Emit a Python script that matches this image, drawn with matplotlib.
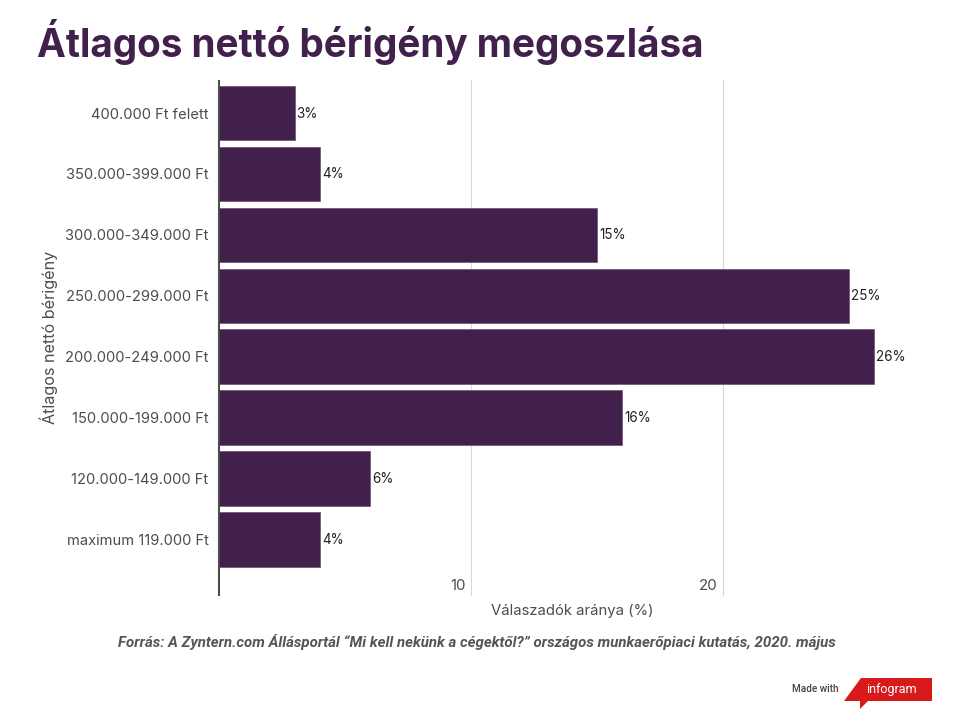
import matplotlib
matplotlib.use('Agg')
import matplotlib.pyplot as plt
from matplotlib.patches import Polygon

# adatok
kategoriak = ['400.000 Ft felett', '350.000-399.000 Ft', '300.000-349.000 Ft', '250.000-299.000 Ft',
              '200.000-249.000 Ft', '150.000-199.000 Ft', '120.000-149.000 Ft', 'maximum 119.000 Ft']
ertekek = [3, 4, 15, 25, 26, 16, 6, 4]
x_tickek = [10, 20]

W, H = 962, 720
LILA = '#41204c'
SZURKE = '#4d4d4d'
px = 72 / 100  # pixel -> pont

fig = plt.figure(figsize=(W / 100, H / 100), dpi=100)
ax = fig.add_axes([219 / W, 1 - 596 / H, (925 - 219) / W, (596 - 80) / H])

ax.barh(range(len(ertekek)), ertekek, height=0.895, color=LILA, edgecolor='#6d4f78', linewidth=0.5, zorder=3)
ax.set_xlim(0, 28.02)
ax.set_ylim(7.926, -0.542)

for s in ['top', 'right', 'bottom']:
    ax.spines[s].set_visible(False)
ax.spines['left'].set_color(SZURKE)
ax.spines['left'].set_linewidth(1.5)
ax.spines['left'].set_capstyle('butt')
ax.spines['left'].set_zorder(4)

ax.set_yticks(range(len(kategoriak)))
ax.set_yticklabels(kategoriak, family='Inter', fontsize=10.6, color=SZURKE)
ax.tick_params(axis='y', length=0, pad=7.5)

ax.set_xticks(x_tickek)
ax.tick_params(axis='x', length=0, labelbottom=False)
ax.grid(axis='x', color='#d9d9d9', linewidth=0.8, zorder=0)

for v in x_tickek:
    ax.annotate(str(v), (v, 0), xycoords=('data', 'axes fraction'), xytext=(-5 * px, 3 * px),
                textcoords='offset points', ha='right', va='bottom', family='Inter', fontsize=10.8, color=SZURKE)

for i, v in enumerate(ertekek):
    ax.annotate(str(v) + '%', (v, i), xytext=(2 * px, -0.5 * px), textcoords='offset points', ha='left', va='center',
                family='Inter', fontsize=9.7, color='#222222')

fig.text(572 / W, 1 - 611 / H, 'Válaszadók aránya (%)', family='Inter', fontsize=10.7, color=SZURKE,
         ha='center', va='center')
fig.text(49 / W, 1 - 337 / H, 'Átlagos nettó bérigény', family='Inter', fontsize=11.6, color=SZURKE,
         ha='center', va='center', rotation=90)

fig.text(37 / W, 1 - 42 / H, 'Átlagos nettó bérigény megoszlása', family='Inter', fontweight='bold',
         fontsize=27.85, color=LILA, ha='left', va='center')
fig.text(476.5 / W, 1 - 642 / H, 'Forrás: A Zyntern.com Állásportál “Mi kell nekünk a cégektől?” országos '
         'munkaerőpiaci kutatás, 2020. május', family='Roboto', fontweight='bold', style='italic',
         fontsize=10.83, color='#555555', ha='center', va='center')

# infogram logo
logo = [(861, 678), (932, 678), (932, 701), (868, 701), (860, 709), (860, 701), (844, 701)]
fig.add_artist(Polygon([(x / W, 1 - y / H) for x, y in logo], closed=True, transform=fig.transFigure,
                       facecolor='#d71a1a', edgecolor='none'))
fig.text(891.5 / W, 1 - 689 / H, 'infogram', family='Roboto', fontsize=9, color='white', ha='center', va='center')
fig.text(815 / W, 1 - 689 / H, 'Made with', family='Roboto', fontweight='medium', fontsize=7.2, color='#444444',
         ha='center', va='center')

fig.savefig('out.png', dpi=100)
